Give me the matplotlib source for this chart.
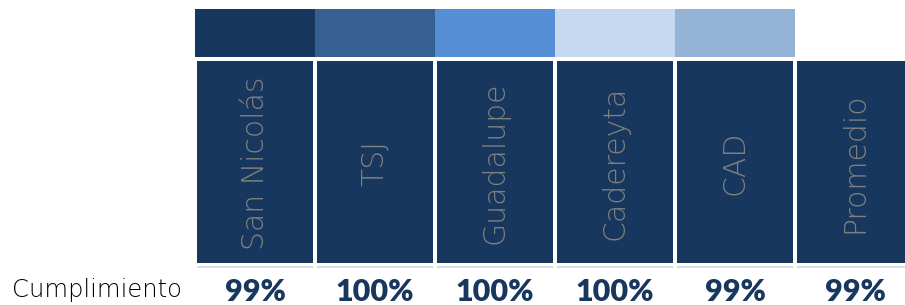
import matplotlib
matplotlib.use("Agg")
import matplotlib.pyplot as plt
import numpy as np

# Data
categories = ["San Nicolás", "TSJ", "Guadalupe", "Cadereyta", "CAD", "Promedio"]
cumplimiento = [99, 100, 100, 100, 99, 99]
strip_colors = ["#17375E", "#376092", "#558ED5", "#C6D9F1", "#95B3D7"]
row_label = "Cumplimiento"

NAVY = "#17375E"
GREY = "#808080"

fig = plt.figure(figsize=(9.05, 3.05), dpi=100)
ax = fig.add_axes([0, 0, 1, 1])
ax.set_xlim(-255 / 120, (905 - 255) / 120)
ax.set_ylim(305, 0)
ax.axis("off")

x = np.arange(len(categories))

# colored strip on top (one cell per colour)
xs = np.arange(len(strip_colors))
ax.bar(xs, 48, width=1.0, bottom=9, color=strip_colors, edgecolor="none")

# dark boxes
ax.bar(x, 202, width=116 / 120, bottom=61, color=NAVY, edgecolor="none")
# thin light line below each box
ax.bar(x, 2, width=116 / 120, bottom=266, color="#D5DCE6", edgecolor="none")

for xi, name in zip(x, categories):
    ax.text(xi, 163, name, rotation=90, ha="center", va="center",
            fontsize=21.5, color=GREY, family=["DejaVu Sans"], fontweight="light")

for xi, v in zip(x, cumplimiento):
    ax.text(xi, 292, f"{v}%", ha="center", va="center", fontsize=22,
            fontweight="heavy", color=NAVY, family=["Lato", "DejaVu Sans"])

ax.text(-255 / 120 + 12 / 120, 290, row_label, ha="left", va="center",
        fontsize=17.5, color="black", family=["DejaVu Sans"], fontweight="light")

fig.savefig("out.png", dpi=100)
